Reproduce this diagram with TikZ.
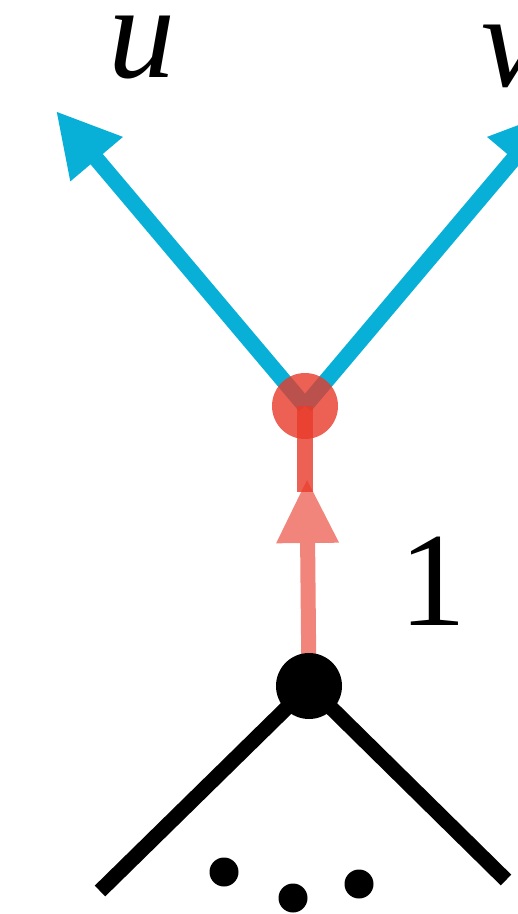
\documentclass[tikz,border=0pt]{standalone}
\usepackage{fontspec}
\setmainfont{Liberation Serif}
\usetikzlibrary{arrows.meta}
\definecolor{cblue}{RGB}{8,176,216}
\definecolor{cred}{RGB}{232,58,42}
\tikzset{
  blueline/.style={draw=cblue, line width=16pt, -{Triangle[length=63pt,width=64pt]}},
  redup/.style={draw=cred, draw opacity=0.8, line width=16pt},
  redlow/.style={draw=cred, fill=cred, line width=15pt, -{Triangle[length=63pt,width=63pt,line width=0pt]}},
  blackline/.style={draw=black, line width=15pt},
  bigtext/.style={inner sep=0pt, anchor=base, font=\fontsize{134}{134}\selectfont},
  dotnode/.style={circle, fill=black, minimum size=29pt, inner sep=0pt},
}
\begin{document}
\begin{tikzpicture}[x=1pt,y=-1pt]
\useasboundingbox (0,0) rectangle (518,914);
\clip (0,0) rectangle (518,914);
% coordinates
\coordinate (top) at (305,406);
\coordinate (utip) at (56,111);
\coordinate (vtip) at (554,111);
\coordinate (upend) at (305,492);
\coordinate (rtip) at (307,480);
\coordinate (lend) at (100,891);
\coordinate (rend) at (506,880);
\coordinate (rootc) at (309,686);
% blue arrows
\draw[blueline] (top) -- (utip);
\draw[blueline] (top) -- (vtip);
% red upper segment and circle
\draw[redup] (top) -- (upend);
\node[circle, fill=cred, fill opacity=0.8, minimum size=66pt, inner sep=0pt] (topnode) at (top) {};
% root shaft with arrow
\begin{scope}[transparency group, opacity=0.62]
\draw[redlow] (rootc) -- (rtip);
\end{scope}
\draw[blackline] (rootc) -- (lend);
\draw[blackline] (rootc) -- (rend);
\node[circle, fill=black, minimum size=66pt, inner sep=0pt] (root) at (rootc) {};
% dots
\node[dotnode] (d1) at (224,872) {};
\node[dotnode] (d2) at (293,898) {};
\node[dotnode] (d3) at (359,884) {};
% labels
\node[bigtext] (lu) at (142,77) {\textit{u}};
\node[bigtext] (lv) at (511,86) {\textit{v}};
\node[bigtext] (l1) at (433,625) {1};
\end{tikzpicture}
\end{document}
